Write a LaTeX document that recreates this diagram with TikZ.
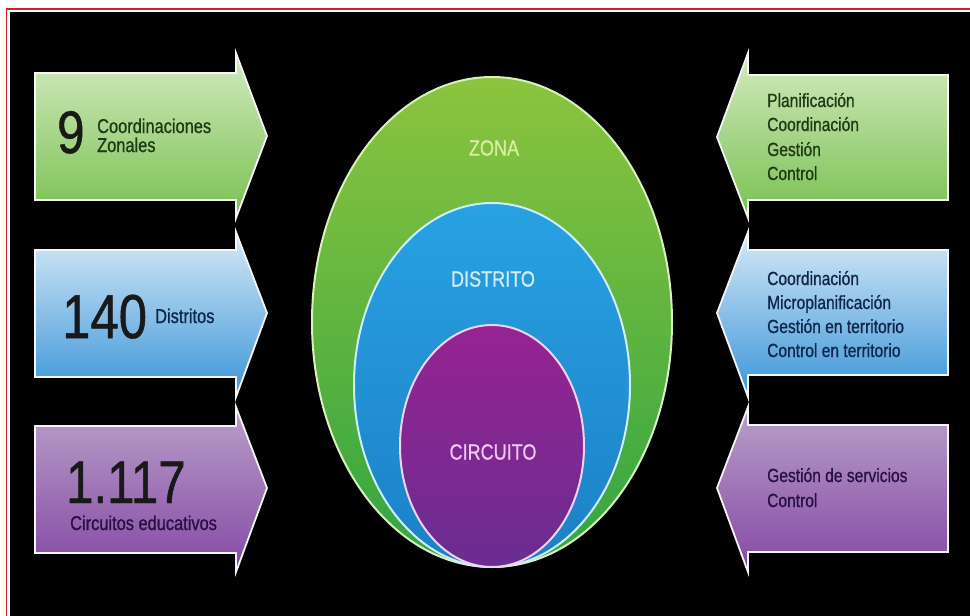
\documentclass[tikz,border=0pt]{standalone}
\usepackage{fontspec}
\setmainfont{Liberation Sans}[FakeStretch=0.82,FakeBold=0.8]
\definecolor{frameRed}{RGB}{210,30,30}
\definecolor{gTop}{RGB}{212,234,192}
\definecolor{gBot}{RGB}{120,192,80}
\definecolor{bTop}{RGB}{214,233,246}
\definecolor{bBot}{RGB}{58,149,216}
\definecolor{pTop}{RGB}{185,160,201}
\definecolor{pBot}{RGB}{132,72,164}
\definecolor{eGTop}{RGB}{140,196,62}
\definecolor{eGBot}{RGB}{50,165,65}
\definecolor{eBTop}{RGB}{40,162,226}
\definecolor{eBBot}{RGB}{28,128,198}
\definecolor{ePTop}{RGB}{150,35,145}
\definecolor{ePBot}{RGB}{105,45,145}
\definecolor{txtG}{RGB}{30,58,22}
\definecolor{txtB}{RGB}{16,38,74}
\definecolor{txtP}{RGB}{40,16,66}
\begin{document}
\begin{tikzpicture}[x=1pt,y=-1pt,
  arrowshape/.style={draw=white!92!gray, line width=1.8pt, line join=miter},
  ringline/.style={line width=2pt},
  bignum/.style={anchor=base west, inner sep=0pt, font=\fontsize{60}{60}\selectfont},
  smalltxt/.style={anchor=base west, inner sep=0pt, font=\fontsize{20}{22}\selectfont},
  righttxt/.style={anchor=base west, inner sep=0pt, font=\fontsize{19}{22}\selectfont},
  ringtxt/.style={inner sep=0pt, font=\fontsize{22}{22}\selectfont}]
\useasboundingbox (0,0) rectangle (970,616);
\fill[white] (0,0) rectangle (970,616);
\fill[black] (10,12) rectangle (970,616);
\draw[frameRed, line width=1.8pt] (6.5,616) -- (6.5,9) -- (970,9);

% left arrows
\path[arrowshape, top color=gTop, bottom color=gBot]
  (35,73) -- (236,73) -- (236,53) -- (267,136) -- (236,218) -- (236,200) -- (35,200) -- cycle;
\path[arrowshape, top color=bTop, bottom color=bBot]
  (35,250) -- (236,250) -- (236,232) -- (267,313) -- (236,397) -- (236,377) -- (35,377) -- cycle;
\path[arrowshape, top color=pTop, bottom color=pBot]
  (35,426) -- (236,426) -- (236,407) -- (267,488) -- (236,572) -- (236,553) -- (35,553) -- cycle;

% right arrows
\path[arrowshape, top color=gTop, bottom color=gBot]
  (948,75) -- (748,75) -- (748,53) -- (717,137) -- (748,218) -- (748,200) -- (948,200) -- cycle;
\path[arrowshape, top color=bTop, bottom color=bBot]
  (948,250) -- (748,250) -- (748,232) -- (717,313) -- (748,397) -- (748,375) -- (948,375) -- cycle;
\path[arrowshape, top color=pTop, bottom color=pBot]
  (948,425) -- (748,425) -- (748,407) -- (717,488) -- (748,572) -- (748,552) -- (948,552) -- cycle;

% nested ellipses
\path[ringline, draw={rgb,255:red,215;green,240;blue,190}, top color=eGTop, bottom color=eGBot]
  (492,322) ellipse [x radius=180pt, y radius=245pt];
\path[ringline, draw={rgb,255:red,205;green,238;blue,250}, top color=eBTop, bottom color=eBBot]
  (492,385) ellipse [x radius=138pt, y radius=182pt];
\path[ringline, draw={rgb,255:red,240;green,210;blue,240}, top color=ePTop, bottom color=ePBot]
  (492,446) ellipse [x radius=92pt, y radius=121pt];

\node[ringtxt, text={rgb,255:red,215;green,238;blue,160}] (zona) at (494,148) {ZONA};
\node[ringtxt, text={rgb,255:red,210;green,236;blue,255}] (distrito) at (493,279) {DISTRITO};
\node[ringtxt, text={rgb,255:red,245;green,200;blue,245}] (circuito) at (493,452) {CIRCUITO};

% left texts
\node[bignum, text=black!90] (n9) at (57,153) {9};
\node[smalltxt, text=txtG] (l1a) at (97,133) {Coordinaciones};
\node[smalltxt, text=txtG] (l1b) at (97,152) {Zonales};
\node[bignum, font=\fontsize{62}{62}\selectfont, text=black!90] (n140) at (62,338) {140};
\node[smalltxt, text=txtB] (l2a) at (155,323) {Distritos};
\node[bignum, text=black!90] (n1117) at (66,503) {1.117};
\node[smalltxt, text=txtP] (l3a) at (70,530) {Circuitos educativos};

% right texts
\node[righttxt, text=txtG] (r1a) at (767,107) {Planificación};
\node[righttxt, text=txtG] (r1b) at (767,131) {Coordinación};
\node[righttxt, text=txtG] (r1c) at (767,156) {Gestión};
\node[righttxt, text=txtG] (r1d) at (767,180) {Control};
\node[righttxt, text=txtB] (r2a) at (767,285) {Coordinación};
\node[righttxt, text=txtB] (r2b) at (767,309) {Microplanificación};
\node[righttxt, text=txtB] (r2c) at (767,333) {Gestión en territorio};
\node[righttxt, text=txtB] (r2d) at (767,357) {Control en territorio};
\node[righttxt, text=txtP] (r3a) at (767,482) {Gestión de servicios};
\node[righttxt, text=txtP] (r3b) at (767,507) {Control};
\end{tikzpicture}
\end{document}
